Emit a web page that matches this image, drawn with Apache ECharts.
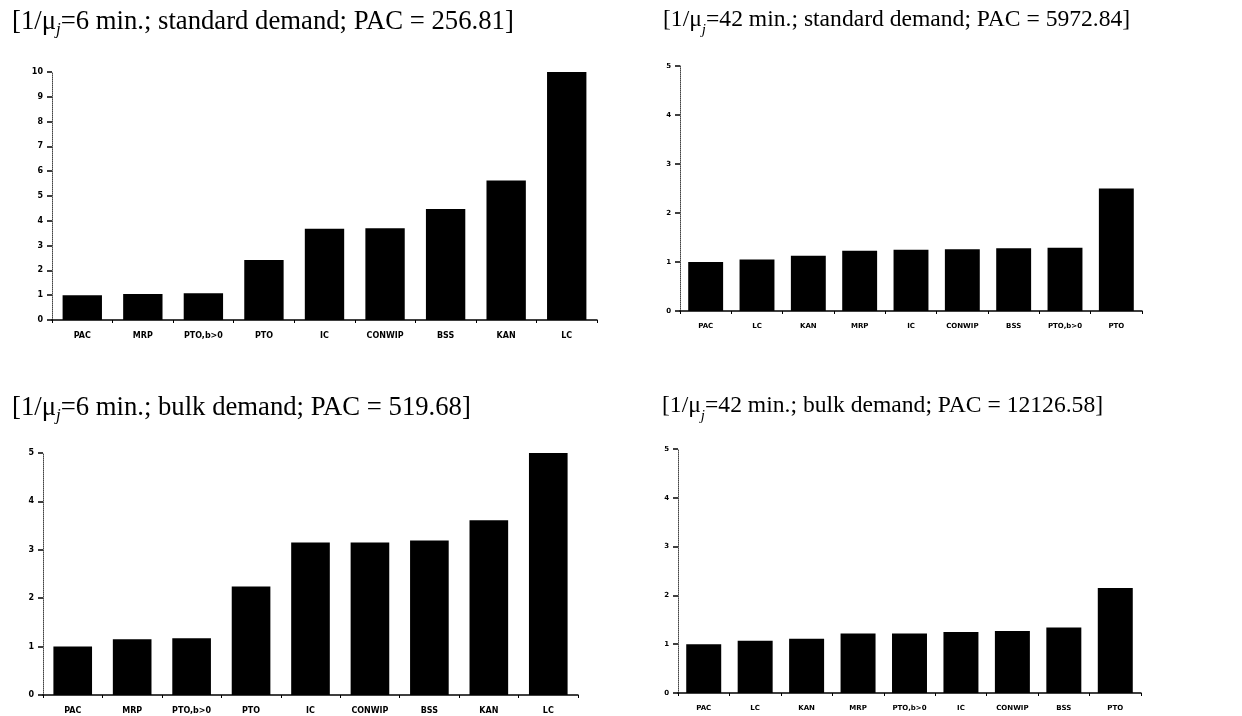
<!DOCTYPE html>
<html>
<head>
<meta charset="utf-8">
<script src="https://cdn.jsdelivr.net/npm/echarts@6/dist/echarts.min.js"></script>
<style>html,body{margin:0;padding:0;background:#fff}#c{width:1242px;height:716px}</style>
</head>
<body>
<div id="c"></div>
<script>
// ---- data ----
const catsTL = ['PAC','MRP','PTO,b>0','PTO','IC','CONWIP','BSS','KAN','LC'];
const valsTL = [1.0, 1.05, 1.08, 2.42, 3.68, 3.70, 4.48, 5.63, 10.0];
const catsTR = ['PAC','LC','KAN','MRP','IC','CONWIP','BSS','PTO,b>0','PTO'];
const valsTR = [1.0, 1.05, 1.13, 1.23, 1.25, 1.26, 1.28, 1.29, 2.5];
const catsBL = ['PAC','MRP','PTO,b>0','PTO','IC','CONWIP','BSS','KAN','LC'];
const valsBL = [1.0, 1.15, 1.17, 2.24, 3.15, 3.15, 3.19, 3.61, 5.1];
const catsBR = ['PAC','LC','KAN','MRP','PTO,b>0','IC','CONWIP','BSS','PTO'];
const valsBR = [1.0, 1.07, 1.11, 1.22, 1.22, 1.25, 1.27, 1.34, 2.15];
const yMaxTL = 10, yMaxTR = 5, yMaxBL = 5, yMaxBR = 5;
const titleTL = ['6', 'standard demand', '256.81'];
const titleTR = ['42', 'standard demand', '5972.84'];
const titleBL = ['6', 'bulk demand', '519.68'];
const titleBR = ['42', 'bulk demand', '12126.58'];

function titleText(t) {
  return '{m|[1/μ}{j|j}{m|=' + t[0] + ' min.; ' + t[1] + '; PAC = ' + t[2] + ']}';
}
function mkTitle(t, left, top, fs) {
  return {
    text: titleText(t), left: left, top: top, padding: 0,
    textStyle: {
      fontWeight: 'normal',
      rich: {
        m: {fontFamily: 'Liberation Serif', fontSize: fs, fontWeight: 'normal', color: '#000', lineHeight: 30, verticalAlign: 'top'},
        j: {fontFamily: 'Liberation Serif', fontSize: Math.round(fs * 0.65), fontWeight: 'normal', fontStyle: 'italic', color: '#000', lineHeight: 8, verticalAlign: 'bottom'}
      }
    }
  };
}
const grids = [
  {left: 52, right: 645, top: 72, bottom: 396},
  {left: 680, right: 100, top: 66, bottom: 405},
  {left: 43, right: 664, top: 453, bottom: 21},
  {left: 678, right: 101, top: 449, bottom: 23}
];
const cats = [catsTL, catsTR, catsBL, catsBR];
const vals = [valsTL, valsTR, valsBL, valsBR];
const ymax = [yMaxTL, yMaxTR, yMaxBL, yMaxBR];
const lfs = [8, 7, 8, 7];
const gaps = ['35%', '32%', '35%', '32%'];

const option = {
  animation: false,
  backgroundColor: '#fff',
  title: [
    mkTitle(titleTL, 12, 8, 26.7),
    mkTitle(titleTR, 663, 8, 23.6),
    mkTitle(titleBL, 12, 394, 26.7),
    mkTitle(titleBR, 662, 394, 23.6)
  ],
  grid: grids,
  xAxis: cats.map((c, i) => ({
    type: 'category', gridIndex: i, data: c,
    axisLine: {lineStyle: {color: '#000', width: 1.5}},
    axisTick: {show: true, length: 3, lineStyle: {color: '#000'}},
    axisLabel: {color: '#000', fontFamily: 'DejaVu Sans', fontWeight: 'bold', fontSize: lfs[i], margin: 12}
  })),
  yAxis: ymax.map((m, i) => ({
    type: 'value', gridIndex: i, min: 0, max: m, interval: 1,
    splitLine: {show: false},
    axisLine: {show: true, lineStyle: {color: '#444', width: 1, type: 'dotted'}},
    axisTick: {show: true, length: 5, lineStyle: {color: '#000', width: 1.5}},
    axisLabel: {color: '#000', fontFamily: 'DejaVu Sans', fontWeight: 'bold', fontSize: lfs[i], margin: 9}
  })),
  series: vals.map((v, i) => ({
    type: 'bar', xAxisIndex: i, yAxisIndex: i, data: v,
    barCategoryGap: gaps[i],
    itemStyle: {color: '#000'}
  }))
};
const chart = echarts.init(document.getElementById('c'), null, {renderer: 'canvas'});
chart.setOption(option);
</script>
</body>
</html>
